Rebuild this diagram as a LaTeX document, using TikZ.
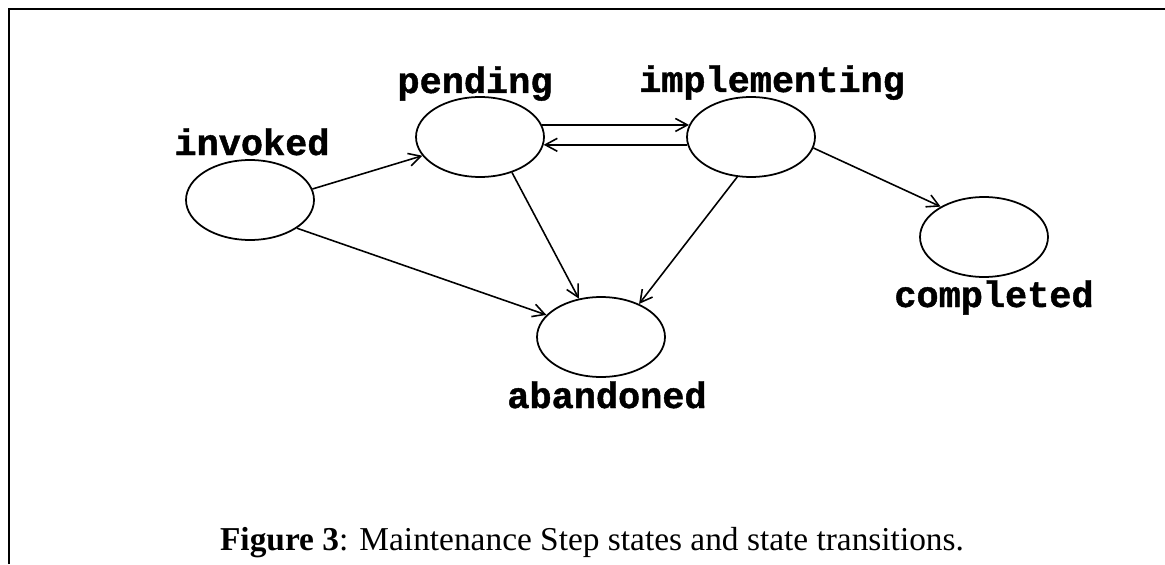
\documentclass[tikz,border=0pt]{standalone}
\usepackage{fontspec}
\setmainfont{Liberation Serif}
\newfontfamily\lblfont[BoldFeatures={FakeBold=1.2}]{Liberation Mono}
\usetikzlibrary{shapes.geometric,arrows.meta}

\begin{document}
\begin{tikzpicture}[x=0.02cm, y=-0.02cm,
  state/.style={ellipse, draw, line width=1pt, minimum width=2.56cm, minimum height=1.6cm, inner sep=0pt},
  statename/.style={font=\lblfont\bfseries\fontsize{21}{21}\selectfont, inner sep=0pt, anchor=base},
  trans/.style={line width=0.9pt, -{Straight Barb[length=2.4mm,width=2.6mm]}}]

        \useasboundingbox (0,0) rectangle (1165,564);
        \draw[line width=1.6pt] (9,564) -- (9,9) -- (1165,9);

        % states
        \node[state] (invoked)      at (250, 200) {};
        \node[state] (pending)      at (480, 137) {};
        \node[state] (implementing) at (751, 137) {};
        \node[state] (completed)    at (984, 237) {};
        \node[state] (abandoned)    at (601, 337) {};

        \node[statename] (invokedname)      at (252, 155) {invoked};
        \node[statename] (pendingname)      at (475, 93)  {pending};
        \node[statename] (implementingname) at (772, 92)  {implementing};
        \node[statename] (completedname)    at (994, 307) {completed};
        \node[statename] (abandonedname)    at (607, 408) {abandoned};

        % transitions
        \draw[trans] (invoked.10)       -- (pending.198);
        \draw[trans] (invoked.-31)      -- (abandoned.158);
        \draw[trans] (pending.-48)      -- (abandoned.120);
        \draw[trans] (pending.11)       -- (implementing.169);
        \draw[trans] (implementing.187) -- (pending.-7);
        \draw[trans] (implementing.-109) -- (abandoned.41);
        \draw[trans] (implementing.-10) -- (completed.145);

        \node[anchor=base, font=\fontsize{19}{19}\selectfont] (caption) at (592, 550)
            {\textbf{Figure 3}: Maintenance Step states and state transitions.};

    \end{tikzpicture}
\end{document}
